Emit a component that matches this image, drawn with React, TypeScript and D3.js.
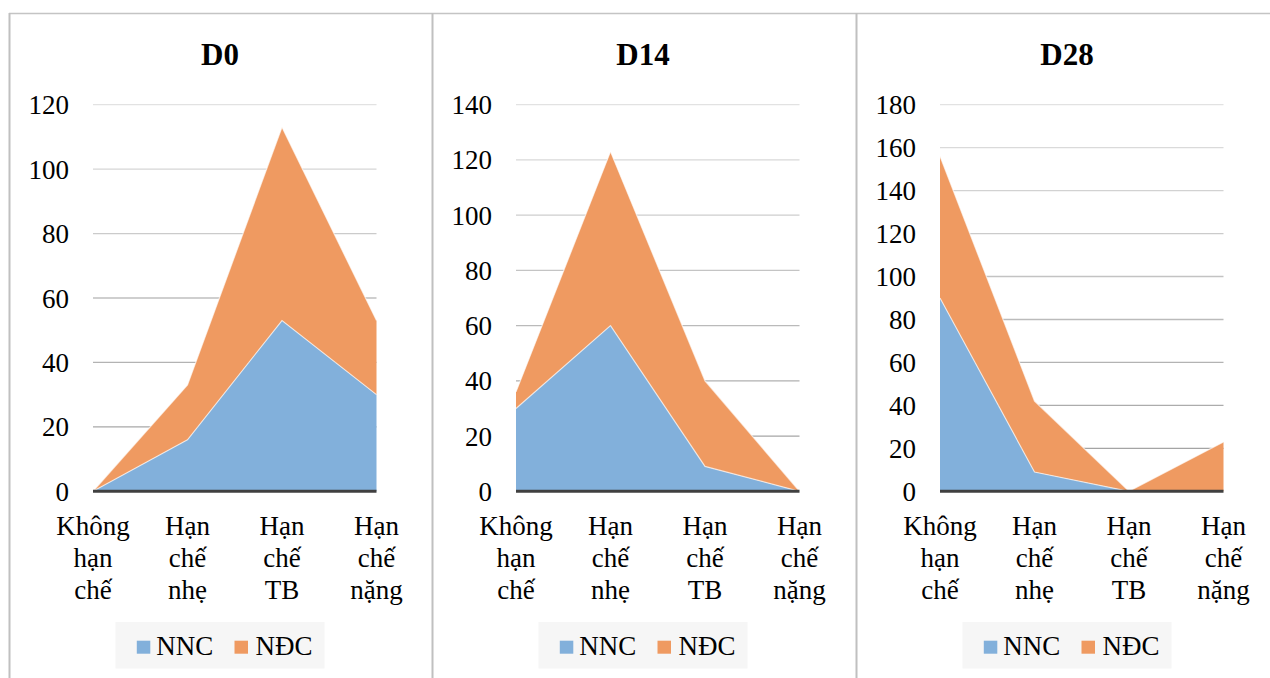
import React from "react";
import * as d3 from "d3";

const categories: string[][] = [
  ["Không", "hạn", "chế"],
  ["Hạn", "chế", "nhẹ"],
  ["Hạn", "chế", "TB"],
  ["Hạn", "chế", "nặng"],
];
const seriesNames = ["NNC", "NĐC"];
const panelTitles = ["D0", "D14", "D28"];
const nncD0 = [0, 16, 53, 30];
const ndcD0 = [0, 17, 60, 23];
const nncD14 = [30, 60, 9, 0];
const ndcD14 = [6, 63, 31, 0];
const nncD28 = [90, 9, 0, 0];
const ndcD28 = [66, 33, 0, 23];
const yMaxes = [120, 140, 180];
const tickStep = 20;

const panels = [
  { title: panelTitles[0], nnc: nncD0, ndc: ndcD0, yMax: yMaxes[0] },
  { title: panelTitles[1], nnc: nncD14, ndc: ndcD14, yMax: yMaxes[1] },
  { title: panelTitles[2], nnc: nncD28, ndc: ndcD28, yMax: yMaxes[2] },
];

const W = 1270;
const H = 678;
const FONT = "Liberation Serif";
const COLORS = ["#82b0db", "#ef9a61"];
const panelLefts = [9, 432, 856];
const panelWidth = 423;
const plotOffset = 84;
const plotWidth = 283.5;
const yTop = 104.7;
const yBottom = 491.3;

function Panel({ p, left }: { p: (typeof panels)[number]; left: number }) {
  const cx = left + panelWidth / 2 - 0.5;
  const x0 = left + plotOffset;
  const x = d3
    .scalePoint<number>()
    .domain(categories.map((_, i) => i))
    .range([x0, x0 + plotWidth]);
  const y = d3.scaleLinear().domain([0, p.yMax]).range([yBottom, yTop]);
  const rows = categories.map((_, i) => ({ i, NNC: p.nnc[i], NDC: p.ndc[i] }));
  const stack = d3.stack<any>().keys(["NNC", "NDC"]);
  const layers = stack(rows);
  const area = d3
    .area<any>()
    .x((d) => x(d.data.i)!)
    .y0((d) => y(d[0]))
    .y1((d) => y(d[1]));
  const topLine = d3
    .line<any>()
    .x((d) => x(d.data.i)!)
    .y((d) => y(d[1]));
  const ticks = d3.range(0, p.yMax + 1, tickStep);
  const gridColor = d3.interpolateRgb("#e2e2e2", "#9c9c9c");
  return (
    <g>
      <text
        x={cx}
        y={65}
        textAnchor="middle"
        style={{ fontFamily: FONT, fontSize: 31, fontWeight: "bold" }}
      >
        {p.title}
      </text>
      {ticks.map((t) =>
        t === 0 ? null : (
          <line
            key={"g" + t}
            x1={x0}
            x2={x0 + plotWidth}
            y1={y(t)}
            y2={y(t)}
            stroke={gridColor(1 - t / p.yMax)}
            strokeWidth={1.3}
          />
        )
      )}
      {ticks.map((t) => (
        <text
          key={"t" + t}
          x={x0 - 24}
          y={y(t) + 9.5}
          textAnchor="end"
          style={{ fontFamily: FONT, fontSize: 27 }}
        >
          {t}
        </text>
      ))}
      {layers.map((layer, k) => (
        <path key={"a" + k} d={area(layer) || ""} fill={COLORS[k]} />
      ))}
      {layers.map((layer, k) => (
        <path
          key={"l" + k}
          d={topLine(layer) || ""}
          fill="none"
          stroke="#ffffff"
          strokeOpacity={0.65}
          strokeWidth={1.2}
        />
      ))}
      <line
        x1={x0}
        x2={x0 + plotWidth}
        y1={yBottom}
        y2={yBottom}
        stroke="#404040"
        strokeWidth={3}
      />
      {categories.map((lines, i) =>
        lines.map((ln, j) => (
          <text
            key={"c" + i + "-" + j}
            x={x(i)}
            y={yBottom + 44 + j * 32}
            textAnchor="middle"
            style={{ fontFamily: FONT, fontSize: 27 }}
          >
            {ln}
          </text>
        ))
      )}
      <rect x={cx - 104.5} y={622} width={209} height={46.5} fill="#f6f6f6" />
      {seriesNames.map((s, k) => (
        <g key={"lg" + k}>
          <rect
            x={cx - 83.2 + k * 97.7}
            y={640.7}
            width={13.5}
            height={13}
            fill={COLORS[k]}
          />
          <text
            x={cx - 63.8 + k * 99.3}
            y={655}
            style={{ fontFamily: FONT, fontSize: 27 }}
          >
            {s}
          </text>
        </g>
      ))}
    </g>
  );
}

export default function App() {
  return (
    <svg width={W} height={H} style={{ position: "absolute", left: 0, top: 0 }}>
      {panels.map((p, i) => (
        <Panel key={i} p={p} left={panelLefts[i]} />
      ))}
      <line x1={9} x2={W} y1={13.5} y2={13.5} stroke="#c4c4c4" strokeWidth={1.5} />
      {panelLefts.map((l, i) => (
        <line
          key={"b" + i}
          x1={l + 0.5}
          x2={l + 0.5}
          y1={13}
          y2={H}
          stroke="#c0c0c0"
          strokeWidth={2}
        />
      ))}
    </svg>
  );
}
